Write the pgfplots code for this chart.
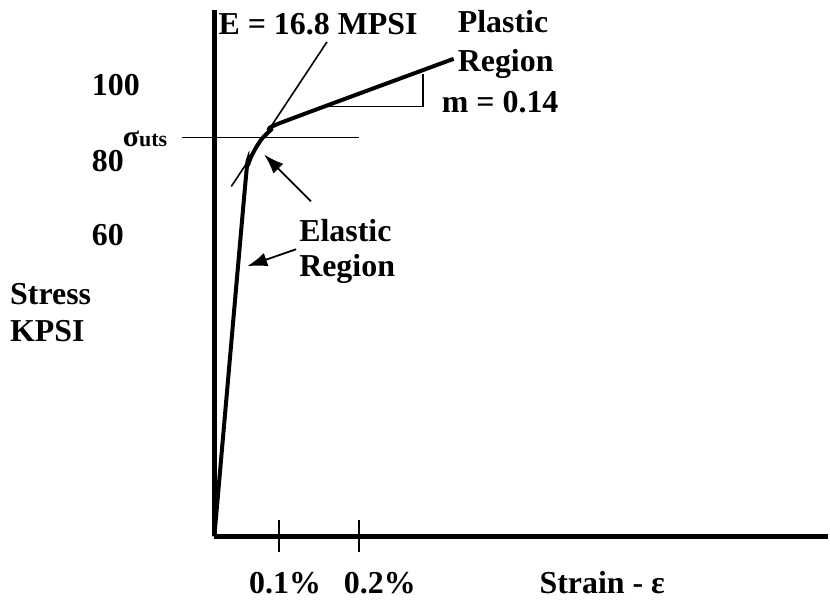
\documentclass[border=0pt]{standalone}
\usepackage{pgfplots}
\pgfplotsset{compat=1.18}
\usepackage{fontspec}
\setmainfont{Liberation Serif}
\usetikzlibrary{arrows.meta}

\newcommand{\lbl}{\fontsize{32}{38}\selectfont\bfseries}

\begin{document}
\begin{tikzpicture}
\begin{axis}[
    width=615pt, height=528pt, scale only axis,
    xmin=0, xmax=615, ymin=0, ymax=528,
    axis x line=bottom, axis y line=left,
    axis line style={line width=5pt, -},
    clip=false,
    xtick={65,145}, xticklabels={,},
    ytick=\empty,
    tick align=center,
    major tick length=32pt,
    xtick style={line width=1.5pt, black},
]
% stress-strain curve (schematic)
\addplot[line width=4pt, smooth, tension=0.4] coordinates {
    (0,0) (31,353) (34,373) (39,385) (47,398) (57,408) (67,415) (240,479)
};
% tangent (modulus), uts line, slope triangle
\addplot[line width=1.6pt] coordinates {(17,351) (113,496)};
\addplot[line width=1.6pt] coordinates {(-32,400) (145,400)};
\addplot[line width=1.6pt] coordinates {(112,431) (209,431) (209,464)};
% arrows to elastic region
\addplot[line width=1.8pt, -{Latex[length=20pt,width=14pt]}] coordinates {(97,336) (50,383)};
\addplot[line width=1.8pt, -{Latex[length=20pt,width=14pt]}] coordinates {(82,288) (33,271)};

% tick labels
\node[anchor=base, inner sep=0pt, font=\lbl] at (axis cs:71,-57) {0.1\%};
\node[anchor=base, inner sep=0pt, font=\lbl] at (axis cs:166,-57) {0.2\%};
\node[anchor=west, inner sep=0pt, font=\lbl] at (axis cs:-123,452.5) {100};
\node[anchor=west, inner sep=0pt, font=\lbl] at (axis cs:-123,376) {80};
\node[anchor=west, inner sep=0pt, font=\lbl] at (axis cs:-123,302) {60};

\node[anchor=base west, inner sep=0pt, font=\lbl] at (axis cs:4,503) {E = 16.8 MPSI};
\node[anchor=base west, inner sep=0pt, font=\lbl] at (axis cs:244,505) {Plastic};
\node[anchor=base west, inner sep=0pt, font=\lbl] at (axis cs:244,466) {Region};
\node[anchor=base west, inner sep=0pt, font=\lbl] at (axis cs:228,425) {m = 0.14};
\node[anchor=base west, inner sep=0pt, font=\lbl] at (axis cs:85,296) {Elastic};
\node[anchor=base west, inner sep=0pt, font=\lbl] at (axis cs:85,261) {Region};
\node[anchor=base west, inner sep=0pt, font=\lbl] at (axis cs:-205,233) {Stress};
\node[anchor=base west, inner sep=0pt, font=\lbl] at (axis cs:-205,195) {KPSI};
\node[anchor=base west, inner sep=0pt, font=\lbl] at (axis cs:326,-57) {Strain - ε};
\node[anchor=base west, inner sep=0pt] at (axis cs:-92,391)
    {\fontsize{30}{36}\selectfont\bfseries σ\fontsize{22}{26}\selectfont uts};

\coordinate (bbll) at (axis cs:-215,-65);
\coordinate (bbur) at (axis cs:615,538);
\end{axis}
\path (bbll) rectangle (bbur);
\end{tikzpicture}
\end{document}
